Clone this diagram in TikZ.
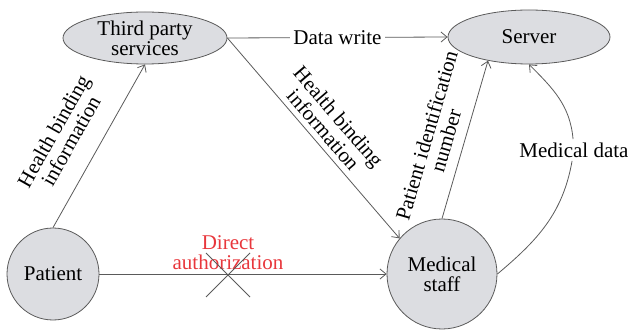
\documentclass[tikz,border=0pt]{standalone}
\usepackage{fontspec}
\setmainfont{Liberation Serif}
\usetikzlibrary{arrows.meta,shapes.geometric}
\begin{document}
\begin{tikzpicture}[x=1pt,y=1pt,font=\fontsize{21}{20}\selectfont,
  party/.style={draw=edge,fill=shade,line width=0.8pt,inner sep=0pt,align=center},
  link/.style={draw=wire,line width=0.8pt},
  tip/.style={-{Straight Barb[length=6pt,width=10pt]}},
  lab/.style={align=center}]
\definecolor{edge}{HTML}{5A5A5A}\definecolor{wire}{HTML}{5A5A5A}
\definecolor{shade}{HTML}{DCDDE1}\definecolor{alert}{HTML}{E8373C}
\useasboundingbox (0,0) rectangle (628,329);
\node[party,ellipse,minimum width=164pt,minimum height=52pt,inner ysep=-3pt] (tps) at (145,291) {Third party\\services};
\node[party,ellipse,minimum width=162pt,minimum height=54pt] (server) at (529,292) {Server};
\node[party,circle,minimum size=92pt] (patient) at (53,55) {Patient};
\node[party,circle,minimum size=110pt] (staff) at (442,55) {Medical\\staff};
\draw[link,tip] (patient.north) -- (tps.south) node[pos=0.45,sloped,above=16pt,lab] {Health binding\\information};
\draw[link,tip] (tps.east) -- (staff.140) node[pos=0.5,sloped,above=2pt,lab] {Health binding\\information};
\draw[link,tip] (tps.east) -- (server.west) node[midway,fill=white,inner sep=3pt] (write) {Data write};
\draw[link,tip] (staff.north) -- (server.210) node[pos=0.46,sloped,above=7pt,lab] {Patient identification\\number};
\node (mdata) at (574,179) {Medical data};
\draw[link] (staff.east) to[out=40,in=-100] (mdata);
\draw[link,tip] (mdata) to[out=95,in=-45] (server.south);
\draw[link,tip] (patient.east) -- (staff.west);
\node[text=alert,lab,anchor=south,inner sep=0pt] (auth) at (228,59) {Direct\\authorization};
\coordinate (cut) at (228,54);
\draw[link] ([shift={(-22,-22)}]cut) -- ([shift={(22,22)}]cut)
  ([shift={(-22,22)}]cut) -- ([shift={(22,-22)}]cut);
\end{tikzpicture}
\end{document}
